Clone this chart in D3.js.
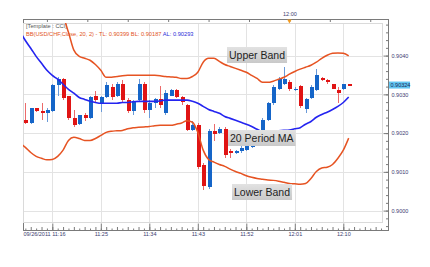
<!DOCTYPE html>
<html lang="en">
<head>
<meta charset="UTF-8">
<title>USD/CHF 1 min - Bollinger Bands</title>
<script src="https://d3js.org/d3.v7.min.js"></script>
<style>
  body { margin: 0; background: #fff; }
  text { font-family: "Liberation Sans", Arial, sans-serif; }
</style>
</head>
<body>
<script>
// 1 minute USD/CHF candles, 11:11 .. 12:11 on 09/26/2011
const opens = [0.90233,0.90225,0.90264,0.90256,0.90251,0.90256,0.90323,0.90339,0.90295,0.90238,
  0.90223,0.90246,0.90238,0.90295,0.90277,0.90292,0.90318,0.90295,0.90328,0.90285,
  0.90256,0.90285,0.90328,0.90259,0.90277,0.90287,0.90251,0.90297,0.90310,0.90292,
  0.90272,0.90207,0.90220,0.90117,0.90060,0.90205,0.90199,0.90210,0.90153,0.90148,
  0.90153,0.90156,0.90163,0.90171,0.90197,0.90233,0.90277,0.90315,0.90328,0.90331,
  0.90310,0.90321,0.90261,0.90290,0.90310,0.90341,0.90336,0.90326,0.90310,0.90313,0.90326];
const highs = [0.90277,0.90266,0.90266,0.90277,0.90266,0.90328,0.90344,0.90341,0.90297,0.90259,
  0.90248,0.90251,0.90295,0.90308,0.90295,0.90331,0.90328,0.90331,0.90336,0.90290,
  0.90285,0.90339,0.90331,0.90285,0.90290,0.90321,0.90310,0.90313,0.90313,0.90295,
  0.90274,0.90230,0.90225,0.90122,0.90210,0.90223,0.90215,0.90215,0.90158,0.90156,
  0.90168,0.90174,0.90176,0.90197,0.90238,0.90279,0.90323,0.90344,0.90370,0.90336,
  0.90318,0.90323,0.90290,0.90323,0.90365,0.90344,0.90339,0.90328,0.90318,0.90328,0.90328];
const lows = [0.90223,0.90223,0.90254,0.90233,0.90228,0.90254,0.90297,0.90285,0.90233,0.90217,
  0.90220,0.90230,0.90236,0.90277,0.90254,0.90290,0.90285,0.90292,0.90279,0.90251,
  0.90246,0.90282,0.90251,0.90238,0.90266,0.90266,0.90248,0.90295,0.90290,0.90272,
  0.90205,0.90205,0.90107,0.90052,0.90055,0.90179,0.90197,0.90137,0.90137,0.90145,
  0.90148,0.90153,0.90161,0.90168,0.90194,0.90230,0.90272,0.90310,0.90323,0.90308,
  0.90308,0.90266,0.90251,0.90287,0.90308,0.90334,0.90328,0.90313,0.90277,0.90310,0.90321];
const closes = [0.90225,0.90264,0.90256,0.90251,0.90259,0.90323,0.90339,0.90290,0.90238,0.90220,
  0.90246,0.90238,0.90292,0.90285,0.90292,0.90323,0.90292,0.90328,0.90285,0.90256,
  0.90282,0.90328,0.90259,0.90277,0.90287,0.90272,0.90303,0.90310,0.90292,0.90279,
  0.90207,0.90220,0.90112,0.90063,0.90205,0.90197,0.90210,0.90143,0.90148,0.90153,
  0.90161,0.90166,0.90171,0.90192,0.90233,0.90277,0.90318,0.90339,0.90339,0.90313,
  0.90315,0.90269,0.90287,0.90318,0.90349,0.90336,0.90331,0.90315,0.90303,0.90326,0.90324];

// Bollinger(20, 2) values, first value is the 11:10 bar left of the view
const upperBand = [0.90543,0.90537,0.90535,0.90532,0.90530,0.90527,0.90522,0.90514,0.90501,0.90460,
  0.90414,0.90398,0.90393,0.90388,0.90377,0.90362,0.90344,0.90344,0.90346,0.90348,
  0.90349,0.90349,0.90349,0.90349,0.90349,0.90349,0.90348,0.90346,0.90345,0.90344,
  0.90341,0.90341,0.90346,0.90357,0.90383,0.90393,0.90393,0.90385,0.90377,0.90372,
  0.90367,0.90362,0.90357,0.90349,0.90341,0.90331,0.90331,0.90334,0.90339,0.90344,
  0.90352,0.90359,0.90365,0.90370,0.90375,0.90383,0.90393,0.90401,0.90406,0.90407,0.90406,0.90399];
const middleBand = [0.90463,0.90439,0.90419,0.90398,0.90380,0.90362,0.90349,0.90339,0.90326,0.90313,
  0.90303,0.90292,0.90287,0.90282,0.90279,0.90277,0.90277,0.90277,0.90277,0.90279,
  0.90279,0.90281,0.90282,0.90282,0.90282,0.90282,0.90283,0.90285,0.90285,0.90285,
  0.90285,0.90285,0.90282,0.90277,0.90269,0.90261,0.90256,0.90251,0.90243,0.90238,
  0.90233,0.90228,0.90223,0.90217,0.90210,0.90205,0.90205,0.90205,0.90206,0.90207,
  0.90208,0.90211,0.90214,0.90223,0.90230,0.90241,0.90248,0.90254,0.90261,0.90269,0.90279,0.90293];
const lowerBand = [0.90174,0.90163,0.90150,0.90140,0.90135,0.90131,0.90132,0.90140,0.90156,0.90181,
  0.90189,0.90186,0.90181,0.90181,0.90186,0.90194,0.90202,0.90205,0.90206,0.90207,
  0.90211,0.90214,0.90215,0.90216,0.90217,0.90219,0.90220,0.90220,0.90220,0.90223,
  0.90226,0.90232,0.90228,0.90202,0.90156,0.90132,0.90125,0.90119,0.90114,0.90107,
  0.90101,0.90096,0.90090,0.90086,0.90083,0.90081,0.90079,0.90078,0.90076,0.90073,
  0.90070,0.90069,0.90068,0.90070,0.90083,0.90101,0.90110,0.90112,0.90119,0.90135,0.90156,0.90187];

const priceTicks = [0.9000, 0.9010, 0.9020, 0.9030, 0.9040];
const gridTimes = ["11:16", "11:25", "11:34", "11:43", "11:52", "12:01", "12:10"];
const topTimes = ["11:15:00", "11:22:30", "11:30:00", "11:37:30", "11:45:00", "11:52:30", "12:00:00", "12:07:30", "12:15:00"];
const dateText = "09/26/2011";
const lastPrice = 0.90324;
const headerLine1 = "[Template : CCI]";
const headerLine2 = "BB(USD/CHF,Close, 20, 2) - TL: 0.90399  BL: 0.90187  ";
const headerLine2b = "AL: 0.90293";

const W = 430, H = 267;
const plot = {left: 23, top: 23, right: 383, bottom: 223};

const parseT = s => d3.timeParse("%Y-%m-%d %H:%M:%S")("2011-09-26 " + (s.length == 5 ? s + ":00" : s));
const t0 = parseT("11:11");
const candleTimes = d3.range(opens.length).map(i => d3.timeMinute.offset(t0, i));
const bandTimes = d3.range(upperBand.length).map(i => d3.timeMinute.offset(t0, i - 1));

const x = d3.scaleTime()
    .domain([parseT("11:16"), parseT("12:10")])
    .range([52.3, 343.3]);
const y = d3.scaleLinear()
    .domain([0.9000, 0.9040])
    .range([210.6, 55.6]);

const svg = d3.select("body").append("svg")
    .attr("width", W)
    .attr("height", H);

const defs = svg.append("defs");
defs.append("clipPath").attr("id", "plotclip")
  .append("rect")
    .attr("x", plot.left).attr("y", plot.top)
    .attr("width", plot.right - plot.left).attr("height", plot.bottom - plot.top);
const grad = defs.append("linearGradient").attr("id", "lblgrad")
    .attr("x1", 0).attr("y1", 0).attr("x2", 0).attr("y2", 1);
grad.append("stop").attr("offset", "0%").attr("stop-color", "#e2e2e2");
grad.append("stop").attr("offset", "100%").attr("stop-color", "#c9c9c9");

// grid
const grid = svg.append("g").attr("shape-rendering", "crispEdges");
grid.selectAll("line.v")
  .data(gridTimes.map(parseT))
  .enter().append("line")
    .attr("x1", d => Math.round(x(d)) + 0.5).attr("x2", d => Math.round(x(d)) + 0.5)
    .attr("y1", plot.top).attr("y2", plot.bottom)
    .attr("stroke", "#e3e3e3");
grid.selectAll("line.h")
  .data(priceTicks)
  .enter().append("line")
    .attr("x1", plot.left).attr("x2", plot.right)
    .attr("y1", d => Math.round(y(d)) + 0.5).attr("y2", d => Math.round(y(d)) + 0.5)
    .attr("stroke", "#e3e3e3");
grid.append("rect")
    .attr("x", plot.left + 0.5).attr("y", plot.top + 0.5)
    .attr("width", plot.right - plot.left - 1).attr("height", plot.bottom - plot.top - 1)
    .attr("fill", "none").attr("stroke", "#dadada").attr("stroke-width", 1.5);

// header
const hdr = svg.append("g").attr("font-size", "5.7px");
hdr.append("text").attr("x", 26).attr("y", 28).attr("fill", "#555").text(headerLine1);
const h2 = hdr.append("text").attr("x", 26).attr("y", 35.5);
h2.append("tspan").attr("fill", "#e2551d").text(headerLine2);
h2.append("tspan").attr("fill", "#2b2bd8").text(headerLine2b);

// candles
const candles = svg.append("g").attr("clip-path", "url(#plotclip)").attr("shape-rendering", "crispEdges");
const bars = candleTimes.map((t, i) => ({t, o: opens[i], h: highs[i], l: lows[i], c: closes[i]}));
const up = d => d.c >= d.o;
const cg = candles.selectAll("g").data(bars).enter().append("g");
cg.append("line")
    .attr("x1", d => Math.round(x(d.t)) + 0.5).attr("x2", d => Math.round(x(d.t)) + 0.5)
    .attr("y1", d => y(d.h)).attr("y2", d => y(d.l))
    .attr("stroke", d => up(d) ? "#6a9ad8" : "#ec6a6a");
cg.append("rect")
    .attr("x", d => Math.round(x(d.t)) - 1.5)
    .attr("width", 4)
    .attr("y", d => y(Math.max(d.o, d.c)))
    .attr("height", d => Math.max(1.5, Math.abs(y(d.o) - y(d.c))))
    .attr("fill", d => up(d) ? "#1565c8" : "#e01414");

// bands
const lines = svg.append("g").attr("clip-path", "url(#plotclip)").attr("fill", "none");
const lineGen = d3.line().x((d, i) => x(bandTimes[i])).y(d => y(d)).curve(d3.curveMonotoneX);
lines.append("path").attr("d", lineGen(upperBand)).attr("stroke", "#e65322").attr("stroke-width", 1.5);
lines.append("path").attr("d", lineGen(lowerBand)).attr("stroke", "#e65322").attr("stroke-width", 1.5);
lines.append("path").attr("d", lineGen(middleBand)).attr("stroke", "#2424f0").attr("stroke-width", 1.6);

// axes frame
const axisColor = "#7a7a7a";
svg.append("path")
    .attr("d", `M${plot.left + 0.5},23 V19.5 H388.5 V230.5 H${plot.left + 0.5} V223`)
    .attr("fill", "none").attr("stroke", axisColor).attr("shape-rendering", "crispEdges");

const labelColor = "#3b3b70";

// right price axis
const minor = d3.range(0.8996, 0.90495, 0.0002);
svg.append("g").attr("transform", "translate(388.5,0)")
    .call(d3.axisRight(y).tickValues(minor).tickSizeInner(-2.5).tickSizeOuter(0).tickFormat(""))
    .call(g => g.select(".domain").remove())
    .call(g => g.selectAll("line").attr("stroke", axisColor));
const ra = svg.append("g").attr("transform", "translate(388.5,0)")
    .call(d3.axisRight(y).tickValues(priceTicks).tickSizeInner(-5).tickSizeOuter(0).tickPadding(3).tickFormat(d3.format(".4f")))
    .call(g => g.select(".domain").remove())
    .call(g => g.selectAll("line").attr("stroke", axisColor));
ra.selectAll("text").attr("font-size", "5.5px").attr("font-family", null).attr("fill", labelColor);

// last price tag
const tag = svg.append("g").attr("transform", `translate(389,${y(lastPrice)})`);
tag.append("rect").attr("x", 0).attr("y", -3.5).attr("width", 21).attr("height", 7).attr("fill", "#62c6f2");
tag.append("text").attr("x", 1.5).attr("y", 1.9).attr("font-size", "5.5px").attr("fill", "#1d2a55").text(lastPrice.toFixed(5));

// bottom time axis
const minuteTicks = d3.range(0, 67).map(i => d3.timeMinute.offset(parseT("11:11"), i));
svg.append("g").attr("transform", "translate(0,230.5)")
    .call(d3.axisBottom(x).tickValues(minuteTicks).tickSizeInner(-2).tickSizeOuter(0).tickFormat(""))
    .call(g => g.select(".domain").remove())
    .call(g => g.selectAll("line").attr("stroke", axisColor).attr("y2", (d, i) => i % 2 ? -3.5 : -2));
const ba = svg.append("g").attr("transform", "translate(0,230.5)")
    .call(d3.axisBottom(x).tickValues(gridTimes.map(parseT)).tickSizeInner(-7).tickSizeOuter(0).tickPadding(2)
      .tickFormat(d3.timeFormat("%H:%M")))
    .call(g => g.select(".domain").remove())
    .call(g => g.selectAll("line").attr("stroke", axisColor));
ba.selectAll("text").attr("font-size", "5.5px").attr("font-family", null).attr("fill", labelColor);
ba.select(".tick text")
    .attr("text-anchor", "start")
    .attr("x", plot.left - x(parseT("11:16")))
    .text(dateText + " " + gridTimes[0]);

// top time axis
const ta = svg.append("g").attr("transform", "translate(0,19.5)")
    .call(d3.axisTop(x).tickValues(topTimes.map(parseT)).tickSizeInner(-2.5).tickSizeOuter(0).tickPadding(3.5)
      .tickFormat(d => d3.timeFormat("%H:%M:%S")(d) == "12:00:00" ? "12:00" : ""))
    .call(g => g.select(".domain").remove())
    .call(g => g.selectAll("line").attr("stroke", axisColor));
ta.selectAll("text").attr("font-size", "5.5px").attr("font-family", null).attr("fill", labelColor);
const tx = x(parseT("12:00"));
svg.append("path")
    .attr("d", `M${tx - 2.2},19.5 L${tx + 2.2},19.5 L${tx},23.5 Z`)
    .attr("fill", "#f29a1f");

// annotations
const notes = [
  {text: "Upper Band", x: 227, y: 47},
  {text: "20 Period MA", x: 228, y: 130},
  {text: "Lower Band", x: 232, y: 184}
];
const ng = svg.selectAll("g.note").data(notes).enter().append("g")
    .attr("transform", d => `translate(${d.x},${d.y})`);
ng.append("rect").attr("class", "bg");
ng.append("text")
    .attr("x", 2).attr("y", 12.3)
    .attr("font-family", "'DejaVu Sans', sans-serif")
    .attr("font-size", "10.5px")
    .attr("fill", "#1e1e1e")
    .text(d => d.text);
ng.each(function() {
  const g = d3.select(this);
  const w = g.select("text").node().getComputedTextLength();
  g.select("rect").attr("width", w + 4).attr("height", 16).attr("fill", "url(#lblgrad)");
});
</script>
</body>
</html>
